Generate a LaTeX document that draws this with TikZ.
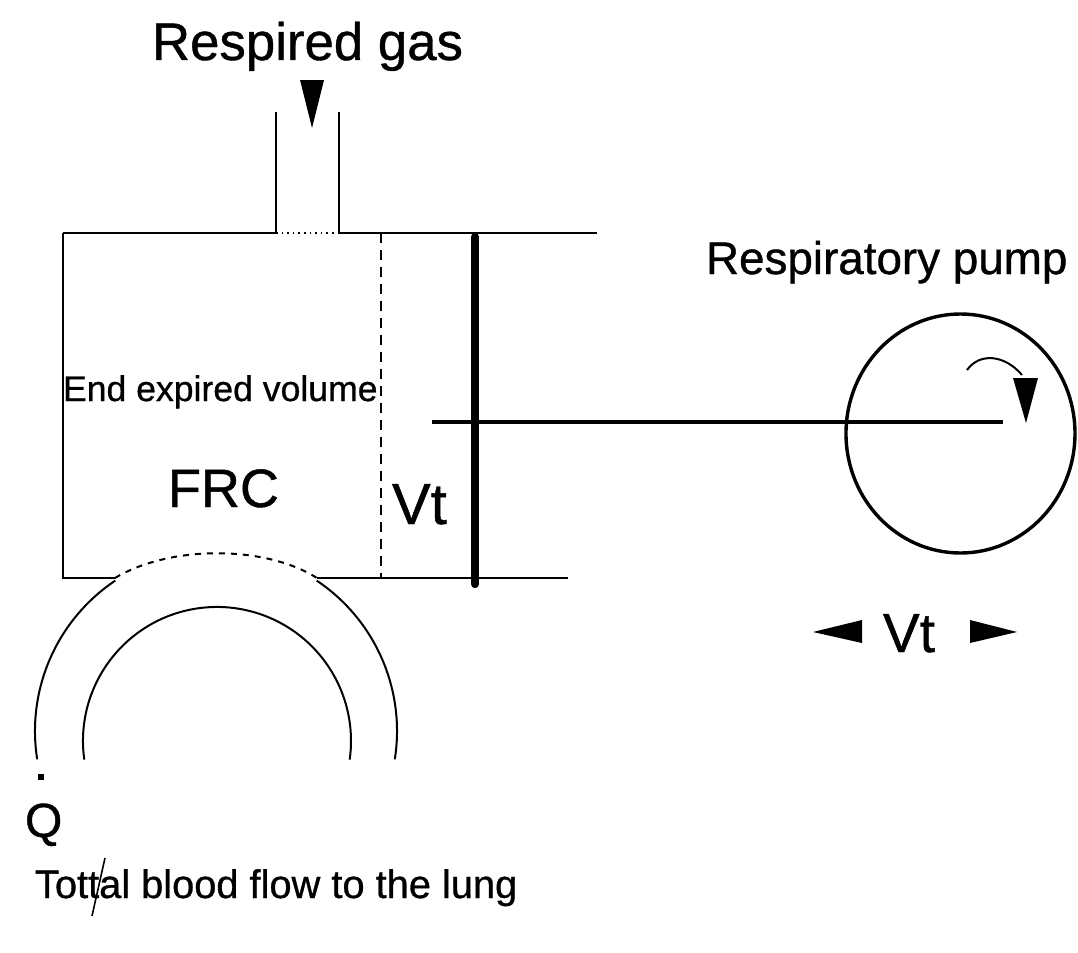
\documentclass[tikz,border=0pt]{standalone}
\usepackage{fontspec}
\setmainfont{Liberation Sans}[FakeBold=0.8]
\begin{document}
\begin{tikzpicture}[x=0.5pt,y=0.5pt,
  thinline/.style={line width=1pt},
  txt/.style={inner sep=0pt, outer sep=0pt, anchor=base west}]
\fill[white] (0,0) rectangle (1078,-953);
\useasboundingbox (0,0) rectangle (1078,-953);

% ---------- key points ----------
\coordinate (tubeL) at (276,-233);
\coordinate (tubeR) at (339,-233);
\coordinate (boxTL) at (63,-233);
\coordinate (boxBL) at (63,-578);
\coordinate (topEnd) at (597,-233);
\coordinate (arcL) at (115,-578);
\coordinate (arcR) at (317,-578);
\coordinate (botEnd) at (568,-578);
\coordinate (rodL) at (432,-422);
\coordinate (rodR) at (1003,-422);
\coordinate (pumpC) at (960.5,-433.5);

% ---------- texts ----------
\node[txt, font=\fontsize{26.4}{30}\selectfont] (gas) at (152,-60) {Respired gas};
\node[txt, font=\fontsize{22.9}{26}\selectfont] (pumplabel) at (706,-274) {Respiratory pump};
\node[txt, font=\fontsize{17.8}{20}\selectfont] (eev) at (63,-401) {End expired volume};
\node[txt, font=\fontsize{27}{30}\selectfont] (frc) at (168,-507) {FRC};
\node[txt, font=\fontsize{29}{32}\selectfont] (vtA) at (392,-524) {Vt};
\node[txt, font=\fontsize{27.5}{30}\selectfont] (vtB) at (883,-652) {Vt};
\node[txt, font=\fontsize{24}{28}\selectfont] (q) at (25,-837) {Q};
\fill (38,-774) rectangle (44,-780);
\node[txt, font=\fontsize{19.9}{22}\selectfont] (blood) at (35,-898) {Tottal blood flow to the lung};
\draw[line width=0.8pt] (105,-858) -- (92,-916);

% ---------- inlet tube ----------
\draw[thinline] (276,-112) -- (tubeL);
\draw[thinline] (339,-112) -- (tubeR);
\fill (300,-80) -- (324,-80) -- (312,-128) -- cycle;

% ---------- lung box ----------
\draw[thinline] (boxTL) -- (tubeL);
\draw[line width=0.8pt, dotted] (tubeL) -- (tubeR);
\draw[thinline] (tubeR) -- (topEnd);
\draw[thinline] (boxTL) -- (boxBL) -- (arcL);
\draw[thinline] (arcR) -- (botEnd);
\draw[thinline, dash pattern=on 5pt off 3.5pt] (381,-233) -- (381,-578);
\draw[line width=4.2pt, line cap=round] (475,-237) -- (475,-584);

% ---------- pump ----------
\draw[line width=1.6pt] (rodL) -- (rodR);
\draw[line width=1.7pt] (pumpC) ellipse[x radius=57.25pt, y radius=59.75pt];
\draw[line width=1pt] (967,-370) .. controls (980,-352) and (1005,-355) .. (1022,-375);
\fill (1013,-378) -- (1038,-378) -- (1026,-423) -- cycle;
\fill (813,-632) -- (862,-620) -- (862,-643) -- cycle;
\fill (1017,-632) -- (970,-620) -- (970,-643) -- cycle;

% ---------- blood vessel ----------
\draw[thinline, dash pattern=on 3pt off 3pt] (arcL) .. controls (170,-545) and (265,-545) .. (arcR);
\draw[thinline] (115.3,-580.6) arc[start angle=123.8, end angle=189, radius=90.5pt];
\draw[thinline] (316.7,-580.6) arc[start angle=56.2, end angle=-9, radius=90.5pt];
\draw[thinline] (84.3,-759.6) arc[start angle=188, end angle=-8, radius=67pt];
\end{tikzpicture}
\end{document}
